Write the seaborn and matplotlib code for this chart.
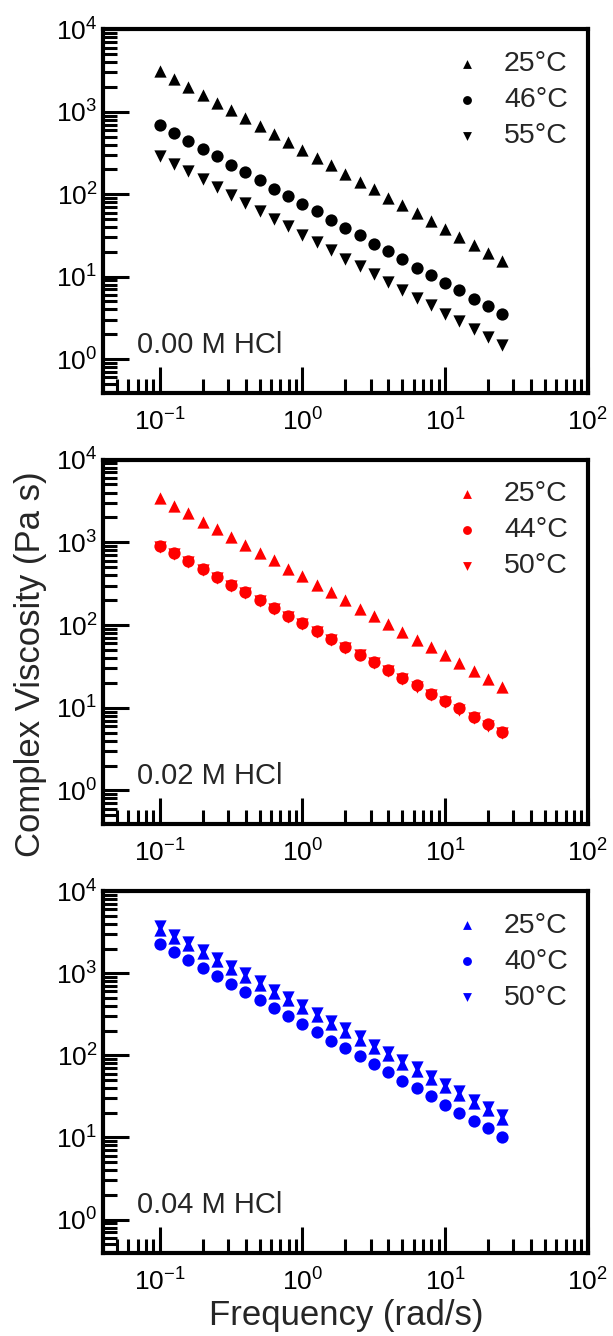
import matplotlib
matplotlib.use("Agg")
import matplotlib.pyplot as plt
import matplotlib.ticker as mticker
import seaborn as sns

# ------------------ DATA ------------------
freq = [0.1, 0.126, 0.158, 0.2, 0.251, 0.316, 0.398, 0.501, 0.631, 0.794,
        1.0, 1.26, 1.58, 2.0, 2.51, 3.16, 3.98, 5.01, 6.31, 7.94,
        10.0, 12.6, 15.8, 20.0, 25.1]

# 0.00 M HCl
p1_25 = [3090, 2510, 2000, 1620, 1290, 1050, 832, 676, 537, 427,
         347, 275, 224, 178, 141, 115, 91, 74, 59, 48,
         38, 30, 24.5, 19.5, 15.5]
p1_46 = [692, 550, 447, 355, 288, 229, 186, 148, 117, 95,
         76, 62, 49, 39, 31.6, 25.1, 20.4, 16.2, 12.9, 10.5,
         8.3, 6.8, 5.4, 4.4, 3.5]
p1_55 = [295, 234, 191, 151, 123, 98, 79, 63, 50, 41,
         32.4, 26.3, 20.9, 16.6, 13.5, 10.7, 8.7, 6.9, 5.5, 4.5,
         3.55, 2.88, 2.29, 1.86, 1.48]

# 0.02 M HCl
p2_25 = [3470, 2750, 2240, 1780, 1450, 1150, 933, 741, 603, 479,
         389, 309, 251, 200, 158, 129, 102, 83, 66, 54,
         43, 34.7, 27.5, 22.4, 17.8]
p2_44 = [912, 741, 589, 479, 380, 309, 251, 200, 162, 129,
         105, 85, 68, 55, 44, 35.5, 28.8, 22.9, 18.6, 14.8,
         12.0, 9.8, 7.8, 6.3, 5.1]
p2_50 = [880, 720, 575, 465, 370, 300, 243, 195, 157, 125,
         102, 82, 66, 53, 43, 34.5, 28, 22.3, 18, 14.4,
         11.7, 9.5, 7.6, 6.1, 4.9]

# 0.04 M HCl
p3_25 = [3390, 2690, 2190, 1740, 1410, 1120, 912, 724, 575, 468,
         372, 302, 240, 195, 155, 123, 100, 79, 65, 51,
         41, 33, 26.3, 21.4, 17.0]
p3_40 = [2290, 1820, 1450, 1170, 933, 741, 589, 468, 380, 302,
         240, 191, 151, 123, 98, 78, 62, 49, 40, 31.6,
         25.1, 20.0, 15.8, 12.9, 10.2]
p3_50 = [3730, 2960, 2410, 1910, 1550, 1230, 1000, 796, 633, 515,
         409, 332, 264, 215, 171, 135, 110, 87, 72, 56,
         45, 36.3, 28.9, 23.5, 18.7]

panels = [
    ("0.00 M HCl", "black", [("25°C", "^", p1_25), ("46°C", "o", p1_46), ("55°C", "v", p1_55)]),
    ("0.02 M HCl", "#ff0000", [("25°C", "^", p2_25), ("44°C", "o", p2_44), ("50°C", "v", p2_50)]),
    ("0.04 M HCl", "#0000ff", [("25°C", "^", p3_25), ("40°C", "o", p3_40), ("50°C", "v", p3_50)]),
]

# ------------------ STYLE ------------------
sns.set_style("ticks")
plt.rcParams["font.family"] = ["Liberation Sans", "DejaVu Sans"]
plt.rcParams["mathtext.default"] = "regular"
plt.rcParams["axes.unicode_minus"] = False

fig = plt.figure(figsize=(6.13, 13.36), dpi=100)

# axes boxes in figure fraction (left, bottom, width, height)
boxes = [(0.168, 0.706, 0.791, 0.272),
         (0.168, 0.383, 0.791, 0.273),
         (0.168, 0.062, 0.791, 0.271)]

for (title, col, series), box in zip(panels, boxes):
    ax = fig.add_axes(box)
    for lab, mk, vals in series:
        sns.scatterplot(x=freq, y=vals, marker=mk, color=col, s=78,
                        linewidth=0, label=lab, ax=ax)
    ax.set_xscale("log")
    ax.set_yscale("log")
    ax.set_xlim(0.04, 100)
    ax.set_ylim(0.39, 1e4)

    for sp in ax.spines.values():
        sp.set_linewidth(3)
        sp.set_color("black")

    ax.xaxis.set_major_locator(mticker.LogLocator(base=10, numticks=10))
    ax.xaxis.set_minor_locator(mticker.LogLocator(base=10, subs=range(2, 10), numticks=20))
    ax.yaxis.set_major_locator(mticker.LogLocator(base=10, numticks=10))
    ax.yaxis.set_minor_locator(mticker.LogLocator(base=10, subs=range(2, 10), numticks=20))
    ax.xaxis.set_minor_formatter(mticker.NullFormatter())
    ax.yaxis.set_minor_formatter(mticker.NullFormatter())

    ax.tick_params(which="both", direction="in", top=False, right=False,
                   colors="black", labelsize=19)
    ax.tick_params(which="major", length=19, width=2.2)
    ax.tick_params(which="minor", length=10, width=2.2)
    ax.tick_params(axis="x", which="major", pad=11)
    ax.tick_params(axis="y", which="major", pad=4)

    ax.text(0.07, 0.11, title, transform=ax.transAxes, fontsize=21,
            va="baseline", ha="left")

    leg = ax.legend(loc="upper right", bbox_to_anchor=(1.0, 0.995), frameon=False,
                    fontsize=20.5, markerscale=0.72, handlelength=0.8,
                    handletextpad=0.9, labelspacing=0.35, borderaxespad=0.3)
    for h in leg.legend_handles:
        h.set_color(col)
    ax.set_xlabel("")
    ax.set_ylabel("")

fig.text(0.5645, 0.008, "Frequency (rad/s)", ha="center", va="baseline", fontsize=25)
fig.text(0.049, 0.503, "Complex Viscosity (Pa s)", ha="center", va="center",
         rotation=90, fontsize=25)

fig.savefig("out.png", dpi=100)
